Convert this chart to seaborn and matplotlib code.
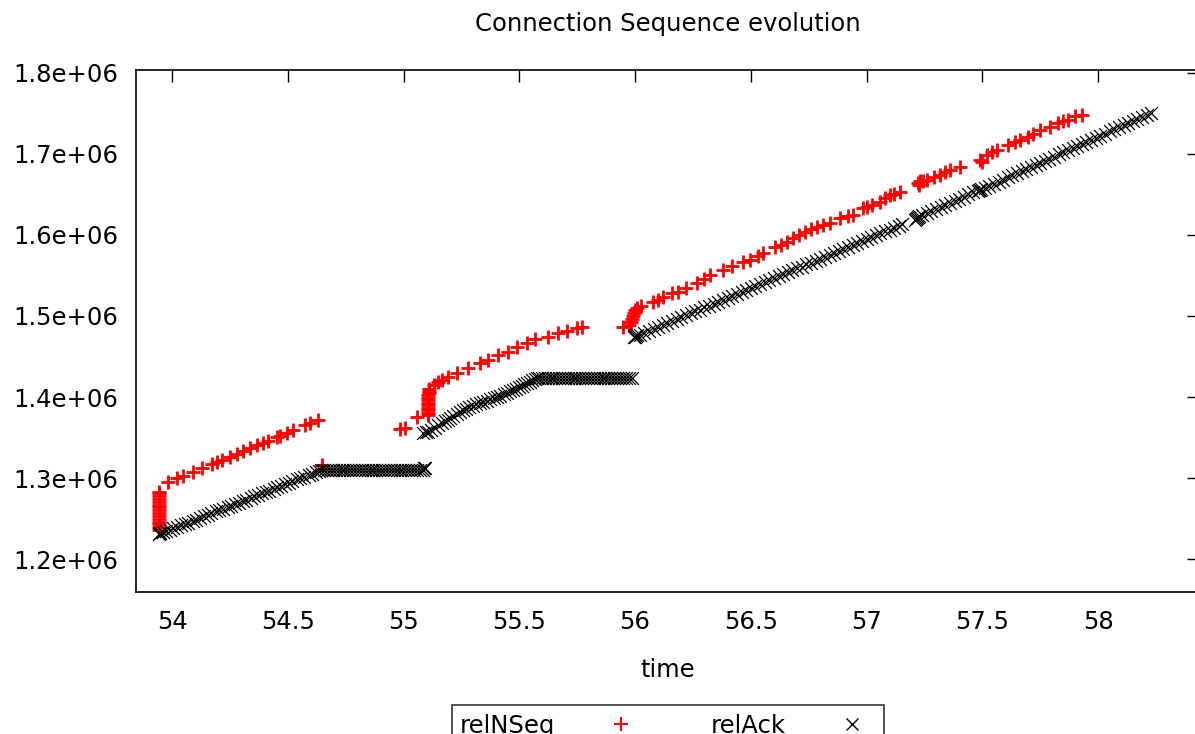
import matplotlib
matplotlib.use("Agg")
import matplotlib.pyplot as plt
from matplotlib.lines import Line2D
from matplotlib.ticker import FuncFormatter
import seaborn as sns
import pandas as pd

# ---------------- data ----------------
# relNSeq (red "+")
seq_time = [
    53.944, 53.944, 53.944, 53.944, 53.944, 53.945, 53.945, 53.945, 53.945, 53.945,
    53.946, 53.946, 53.946, 53.946, 53.946,
    53.983, 54.022, 54.048, 54.091, 54.130, 54.173, 54.194, 54.216, 54.251, 54.281,
    54.307, 54.337, 54.367, 54.393, 54.415, 54.454, 54.467, 54.497, 54.523, 54.575,
    54.596, 54.631, 54.650,
    54.985, 55.005, 55.058,
    55.104, 55.104, 55.105, 55.105, 55.106, 55.106, 55.106, 55.107, 55.107, 55.108,
    55.108, 55.108,
    55.130, 55.150, 55.166, 55.192, 55.231, 55.279, 55.330, 55.365, 55.408, 55.451,
    55.490, 55.534, 55.568, 55.624, 55.667, 55.706, 55.749, 55.771,
    55.948, 55.975, 55.982, 55.988, 55.992, 55.996, 56.000, 56.010, 56.025,
    56.078, 56.100, 56.121, 56.160, 56.186, 56.220, 56.268, 56.300, 56.324, 56.380,
    56.420, 56.467, 56.497, 56.530, 56.553, 56.605, 56.630, 56.657, 56.683, 56.710,
    56.734, 56.760, 56.786, 56.810, 56.842, 56.886, 56.920, 56.942, 56.985, 57.000,
    57.024, 57.058, 57.080, 57.102, 57.120, 57.145,
    57.223, 57.228, 57.231, 57.245, 57.261, 57.290, 57.318, 57.340, 57.361, 57.404,
    57.490, 57.500, 57.521, 57.540, 57.564, 57.611, 57.640, 57.663, 57.698, 57.720,
    57.749, 57.793, 57.827, 57.850, 57.870, 57.900, 57.931,
]
seq_value = [
    1.2360e6, 1.2395e6, 1.2430e6, 1.2465e6, 1.2500e6, 1.2535e6, 1.2570e6, 1.2605e6, 1.2640e6, 1.2675e6,
    1.2710e6, 1.2745e6, 1.2780e6, 1.2815e6, 1.2830e6,
    1.2951e6, 1.2997e6, 1.3028e6, 1.3079e6, 1.3124e6, 1.3175e6, 1.3201e6, 1.3226e6, 1.3267e6, 1.3303e6,
    1.3334e6, 1.3369e6, 1.3405e6, 1.3436e6, 1.3461e6, 1.3507e6, 1.3522e6, 1.3558e6, 1.3589e6, 1.3650e6,
    1.3675e6, 1.3716e6, 1.3160e6,
    1.3612e6, 1.3625e6, 1.3753e6,
    1.3780e6, 1.3810e6, 1.3840e6, 1.3870e6, 1.3900e6, 1.3930e6, 1.3960e6, 1.3990e6, 1.4020e6, 1.4050e6,
    1.4080e6, 1.4100e6,
    1.4150e6, 1.4185e6, 1.4210e6, 1.4247e6, 1.4296e6, 1.4358e6, 1.4420e6, 1.4457e6, 1.4519e6, 1.4556e6,
    1.4617e6, 1.4667e6, 1.4716e6, 1.4741e6, 1.4790e6, 1.4815e6, 1.4852e6, 1.4864e6,
    1.4864e6, 1.4890e6, 1.4925e6, 1.4960e6, 1.5000e6, 1.5040e6, 1.5075e6, 1.5100e6, 1.5120e6,
    1.5173e6, 1.5200e6, 1.5235e6, 1.5284e6, 1.5296e6, 1.5350e6, 1.5407e6, 1.5460e6, 1.5506e6, 1.5568e6,
    1.5620e6, 1.5667e6, 1.5691e6, 1.5740e6, 1.5778e6, 1.5852e6, 1.5880e6, 1.5914e6, 1.5963e6, 1.6000e6,
    1.6037e6, 1.6070e6, 1.6099e6, 1.6120e6, 1.6148e6, 1.6210e6, 1.6230e6, 1.6247e6, 1.6333e6, 1.6350e6,
    1.6371e6, 1.6408e6, 1.6450e6, 1.6494e6, 1.6510e6, 1.6531e6,
    1.6642e6, 1.6617e6, 1.6660e6, 1.6670e6, 1.6679e6, 1.6710e6, 1.6741e6, 1.6770e6, 1.6803e6, 1.6840e6,
    1.6926e6, 1.6900e6, 1.6988e6, 1.7020e6, 1.7050e6, 1.7111e6, 1.7140e6, 1.7173e6, 1.7210e6, 1.7240e6,
    1.7296e6, 1.7333e6, 1.7383e6, 1.7400e6, 1.7420e6, 1.7460e6, 1.7482e6,
]

# relAck (black "x")
ack_time = [
    53.945, 53.948, 53.950, 53.960, 53.975, 53.990, 54.005, 54.020, 54.040, 54.055,
    54.070, 54.090, 54.105, 54.120, 54.140, 54.155, 54.170, 54.190, 54.205, 54.220,
    54.240, 54.255, 54.270, 54.290, 54.305, 54.320, 54.340, 54.355, 54.370, 54.390,
    54.405, 54.420, 54.440, 54.455, 54.470, 54.490, 54.505, 54.520, 54.540, 54.555,
    54.570, 54.590, 54.605, 54.620, 54.635,
    54.645, 54.657, 54.670, 54.683, 54.695, 54.708, 54.720, 54.733, 54.745, 54.758,
    54.770, 54.783, 54.795, 54.808, 54.820, 54.833, 54.845, 54.858, 54.870, 54.883,
    54.895, 54.908, 54.920, 54.933, 54.945, 54.958, 54.970, 54.983, 54.995, 55.008,
    55.020, 55.033, 55.045, 55.058, 55.070, 55.083, 55.090, 55.093,
    55.084, 55.095, 55.106, 55.120, 55.135, 55.150, 55.166, 55.180, 55.190, 55.201,
    55.215, 55.230, 55.245, 55.257, 55.270, 55.285, 55.300, 55.315, 55.330, 55.345,
    55.360, 55.375, 55.390, 55.404, 55.418, 55.432, 55.446, 55.460, 55.473, 55.486,
    55.498, 55.510, 55.522, 55.534, 55.546, 55.556, 55.566, 55.577,
    55.585, 55.597, 55.610, 55.622, 55.635, 55.647, 55.660, 55.672, 55.685, 55.697,
    55.710, 55.722, 55.735, 55.747, 55.760, 55.772, 55.785, 55.797, 55.810, 55.822,
    55.835, 55.847, 55.860, 55.872, 55.885, 55.897, 55.910, 55.922, 55.935, 55.947,
    55.960, 55.972, 55.985,
    55.995, 56.000, 56.005, 56.010, 56.020, 56.040, 56.060, 56.080, 56.100, 56.120,
    56.140, 56.160, 56.180, 56.200, 56.220, 56.240, 56.260, 56.280, 56.300, 56.320,
    56.340, 56.360, 56.380, 56.400, 56.420, 56.440, 56.460, 56.480, 56.500, 56.520,
    56.540, 56.560, 56.580, 56.600, 56.620, 56.640, 56.660, 56.680, 56.700, 56.720,
    56.740, 56.760, 56.780, 56.800, 56.820, 56.840, 56.860, 56.880, 56.900, 56.920,
    56.940, 56.960, 56.980, 57.000, 57.020, 57.040, 57.060, 57.080, 57.100, 57.120,
    57.140, 57.155,
    57.210, 57.215, 57.218, 57.222, 57.225, 57.240, 57.260, 57.280, 57.300, 57.320,
    57.340, 57.360, 57.380, 57.400, 57.420, 57.440, 57.460, 57.480, 57.486, 57.490,
    57.494, 57.510, 57.530, 57.550, 57.570, 57.590, 57.610, 57.630, 57.650, 57.670,
    57.690, 57.710, 57.730, 57.750, 57.770, 57.790, 57.810, 57.830, 57.850, 57.870,
    57.890, 57.910, 57.930, 57.950, 57.970, 57.990, 58.010, 58.030, 58.050, 58.070,
    58.090, 58.110, 58.130, 58.150, 58.170, 58.190, 58.210, 58.230,
]
ack_value = [
    1.2315e6, 1.2321e6, 1.2325e6, 1.2335e6, 1.2345e6, 1.2362e6, 1.2380e6, 1.2395e6, 1.2420e6, 1.2435e6,
    1.2450e6, 1.2478e6, 1.2490e6, 1.2510e6, 1.2530e6, 1.2548e6, 1.2565e6, 1.2590e6, 1.2605e6, 1.2622e6,
    1.2645e6, 1.2660e6, 1.2680e6, 1.2700e6, 1.2718e6, 1.2735e6, 1.2758e6, 1.2775e6, 1.2790e6, 1.2815e6,
    1.2830e6, 1.2848e6, 1.2870e6, 1.2888e6, 1.2905e6, 1.2928e6, 1.2945e6, 1.2962e6, 1.2985e6, 1.3000e6,
    1.3018e6, 1.3040e6, 1.3058e6, 1.3075e6, 1.3092e6,
    1.3105e6, 1.3105e6, 1.3105e6, 1.3105e6, 1.3105e6, 1.3105e6, 1.3105e6, 1.3105e6, 1.3105e6, 1.3105e6,
    1.3105e6, 1.3105e6, 1.3105e6, 1.3105e6, 1.3105e6, 1.3105e6, 1.3105e6, 1.3105e6, 1.3105e6, 1.3105e6,
    1.3105e6, 1.3105e6, 1.3105e6, 1.3105e6, 1.3105e6, 1.3105e6, 1.3105e6, 1.3105e6, 1.3105e6, 1.3105e6,
    1.3105e6, 1.3105e6, 1.3105e6, 1.3105e6, 1.3105e6, 1.3105e6, 1.3130e6, 1.3120e6,
    1.3556e6, 1.3568e6, 1.3575e6, 1.3600e6, 1.3625e6, 1.3652e6, 1.3679e6, 1.3705e6, 1.3722e6, 1.3741e6,
    1.3765e6, 1.3790e6, 1.3815e6, 1.3840e6, 1.3855e6, 1.3872e6, 1.3890e6, 1.3910e6, 1.3926e6, 1.3942e6,
    1.3958e6, 1.3972e6, 1.3986e6, 1.4000e6, 1.4018e6, 1.4035e6, 1.4052e6, 1.4070e6, 1.4086e6, 1.4105e6,
    1.4122e6, 1.4140e6, 1.4156e6, 1.4173e6, 1.4190e6, 1.4205e6, 1.4220e6, 1.4235e6,
    1.4235e6, 1.4235e6, 1.4235e6, 1.4235e6, 1.4235e6, 1.4235e6, 1.4235e6, 1.4235e6, 1.4235e6, 1.4235e6,
    1.4235e6, 1.4235e6, 1.4235e6, 1.4235e6, 1.4235e6, 1.4235e6, 1.4235e6, 1.4235e6, 1.4235e6, 1.4235e6,
    1.4235e6, 1.4235e6, 1.4235e6, 1.4235e6, 1.4235e6, 1.4235e6, 1.4235e6, 1.4235e6, 1.4235e6, 1.4235e6,
    1.4235e6, 1.4235e6, 1.4235e6,
    1.4735e6, 1.4741e6, 1.4750e6, 1.4760e6, 1.4770e6, 1.4795e6, 1.4815e6, 1.4840e6, 1.4862e6, 1.4888e6,
    1.4912e6, 1.4935e6, 1.4960e6, 1.4985e6, 1.5008e6, 1.5032e6, 1.5056e6, 1.5080e6, 1.5105e6, 1.5128e6,
    1.5152e6, 1.5178e6, 1.5200e6, 1.5225e6, 1.5250e6, 1.5272e6, 1.5296e6, 1.5322e6, 1.5345e6, 1.5370e6,
    1.5394e6, 1.5418e6, 1.5442e6, 1.5466e6, 1.5490e6, 1.5515e6, 1.5538e6, 1.5562e6, 1.5586e6, 1.5610e6,
    1.5635e6, 1.5658e6, 1.5682e6, 1.5706e6, 1.5730e6, 1.5755e6, 1.5778e6, 1.5802e6, 1.5826e6, 1.5850e6,
    1.5875e6, 1.5898e6, 1.5922e6, 1.5946e6, 1.5970e6, 1.5995e6, 1.6018e6, 1.6042e6, 1.6066e6, 1.6090e6,
    1.6115e6, 1.6135e6,
    1.6185e6, 1.6200e6, 1.6212e6, 1.6220e6, 1.6228e6, 1.6240e6, 1.6265e6, 1.6292e6, 1.6318e6, 1.6342e6,
    1.6370e6, 1.6395e6, 1.6422e6, 1.6448e6, 1.6472e6, 1.6498e6, 1.6525e6, 1.6540e6, 1.6548e6, 1.6555e6,
    1.6562e6, 1.6578e6, 1.6605e6, 1.6630e6, 1.6656e6, 1.6682e6, 1.6708e6, 1.6734e6, 1.6760e6, 1.6785e6,
    1.6811e6, 1.6837e6, 1.6862e6, 1.6888e6, 1.6914e6, 1.6940e6, 1.6966e6, 1.6992e6, 1.7018e6, 1.7044e6,
    1.7070e6, 1.7095e6, 1.7121e6, 1.7147e6, 1.7173e6, 1.7198e6, 1.7224e6, 1.7250e6, 1.7276e6, 1.7302e6,
    1.7328e6, 1.7354e6, 1.7380e6, 1.7406e6, 1.7432e6, 1.7458e6, 1.7484e6, 1.7508e6,
]

series_labels = ["relNSeq", "relAck"]
x_ticks = [54, 54.5, 55, 55.5, 56, 56.5, 57, 57.5, 58]
y_ticks = [1.2e6, 1.3e6, 1.4e6, 1.5e6, 1.6e6, 1.7e6, 1.8e6]

# ---------------- style ----------------
sns.set_theme(style="white")
plt.rcParams["font.family"] = ["DejaVu Sans"]
plt.rcParams["text.color"] = "black"
plt.rcParams["axes.labelcolor"] = "black"
plt.rcParams["xtick.color"] = "black"
plt.rcParams["ytick.color"] = "black"

W, H = 1195, 734
fig = plt.figure(figsize=(W / 100, H / 100), dpi=100)
ax = fig.add_axes([136 / W, 1 - 592 / H, (1199 - 136) / W, (592 - 70) / H])

seq_df = pd.DataFrame({"time": seq_time, "value": seq_value})
ack_df = pd.DataFrame({"time": ack_time, "value": ack_value})

sns.scatterplot(data=seq_df, x="time", y="value", marker="+", s=115,
                color="#ff0000", linewidth=2.0, ax=ax, legend=False, zorder=2)
sns.scatterplot(data=ack_df, x="time", y="value", marker="x", s=85,
                color="black", linewidth=0.9, ax=ax, legend=False, zorder=3)

ax.set_xlim(53.8445, 58.436)
ax.set_ylim(1.1597e6, 1.8033e6)
ax.set_xticks(x_ticks)
ax.set_yticks(y_ticks)
ax.xaxis.set_major_formatter(FuncFormatter(lambda v, p: f"{v:g}"))
ax.yaxis.set_major_formatter(FuncFormatter(lambda v, p: f"{v:.1e}"))

for sp in ax.spines.values():
    sp.set_color("black")
    sp.set_linewidth(1.2)
    sp.set_visible(True)

ax.tick_params(axis="both", direction="in", length=8.5, width=1.0,
               top=True, right=True, labelsize=17.5, colors="black")
ax.tick_params(axis="y", pad=13)
ax.tick_params(axis="x", pad=13)

ax.set_title("Connection Sequence evolution", fontsize=17.5, pad=28)
ax.set_xlabel("time", fontsize=17.5, labelpad=17)
ax.set_ylabel("")

handles = [
    Line2D([], [], linestyle="none", marker="+", markersize=10,
           markeredgewidth=1.5, color="#ff0000"),
    Line2D([], [], linestyle="none", marker="x", markersize=9,
           markeredgewidth=1.0, color="black"),
]
leg = fig.legend(handles, series_labels, loc="upper center",
                 bbox_to_anchor=(668 / W, 1 - 705 / H), ncol=2,
                 markerfirst=False, frameon=True, fancybox=False,
                 edgecolor="black", fontsize=17.5, handlelength=2.0,
                 handletextpad=1.7, columnspacing=2.7, borderpad=0.35,
                 borderaxespad=0.0)
leg.get_frame().set_linewidth(1.2)

fig.savefig("out.png", dpi=100, facecolor="white")
